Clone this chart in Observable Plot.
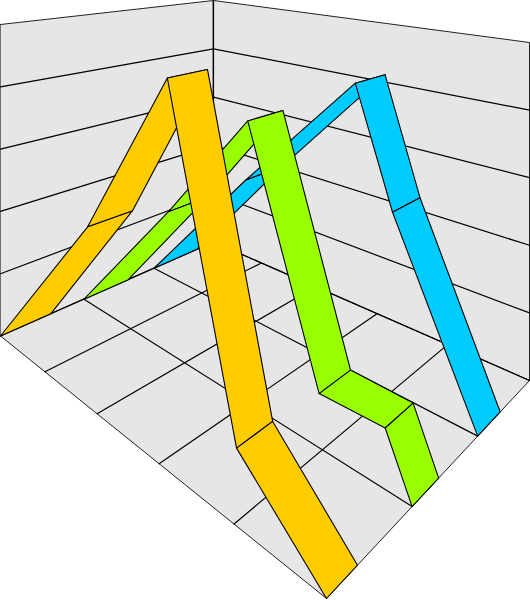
<!DOCTYPE html>
<html>
<head>
<meta charset="utf-8">
<script src="https://cdn.jsdelivr.net/npm/d3@7"></script>
<script src="https://cdn.jsdelivr.net/npm/@observablehq/plot@0.6"></script>
<style>html,body{margin:0;padding:0;background:#fff}svg{display:block}</style>
</head>
<body>
<div id="chart"></div>
<script>
// Ribbon data: position along the category axis (0..5) and value (0..5)
const seriesColors = ["#ffcc00", "#99ff00", "#00ccff"];
const seriesDepthFront = [0, 0.3333, 0.6667];
const seriesWidthStart = [0.193, 0.204, 0.235];
const seriesWidthEnd = [0.11, 0.125, 0.136];
const orangeT = [0, 1.83, 3.12, 4.03, 5];
const orangeV = [0, 2.49, 4.85, 0.88, 0];
const greenT = [0, 1.72, 3.0, 3.96, 4.72, 5];
const greenV = [0, 2.2, 3.96, 0.70, 0.74, 0];
const blueT = [0, 1.82, 3.52, 4.01, 5];
const blueV = [0, 2.31, 4.34, 2.59, 0];
const seriesT = [orangeT, greenT, blueT];
const seriesV = [orangeV, greenV, blueV];
const categoryTicks = [0, 1, 2, 3, 4, 5];
const depthTicks = [0, 1 / 3, 2 / 3, 1];
const valueTicks = [0, 1, 2, 3, 4, 5];

// Camera: screen position of the floor corners and size of one value unit there
const corner = {
  left: {x: 0, y: 335.5, unit: 62.3},
  back: {x: 213, y: 241.5, unit: 48.3},
  right: {x: 529, y: 380, unit: 67.6}
};
const front = {x: 326, y: 598};
const wL = 1 / corner.left.unit, wB = 1 / corner.back.unit, wR = 1 / corner.right.unit;
const wF = wL + wR - wB;

function project(t, s, v) {
  const a = t / 5;
  const k = [(1 - a) * (1 - s), (1 - a) * s, a * (1 - s), a * s];
  const ws = [wL, wB, wF, wR];
  const pts = [corner.left, corner.back, front, corner.right];
  let den = 0, nx = 0, ny = 0;
  for (let i = 0; i < 4; i++) {
    den += k[i] * ws[i];
    nx += k[i] * ws[i] * pts[i].x;
    ny += k[i] * ws[i] * pts[i].y;
  }
  return {x: nx / den, y: ny / den - v / den};
}
function quad(id, p) {
  return p.map(([t, s, v]) => ({id, ...project(t, s, v)}));
}

const maxT = 5, maxV = 5;
const wallBg = [
  ...quad("left", [[0, 0, 0], [0, 1, 0], [0, 1, maxV], [0, 0, maxV]]),
  ...quad("right", [[0, 1, 0], [maxT, 1, 0], [maxT, 1, maxV], [0, 1, maxV]]),
  ...quad("floor", [[0, 0, 0], [maxT, 0, 0], [maxT, 1, 0], [0, 1, 0]])
];
const grid = [];
for (const v of valueTicks.slice(1, -1).concat([0])) {
  grid.push(...quad("lw" + v, [[0, 0, v], [0, 1, v]]));
  grid.push(...quad("rw" + v, [[0, 1, v], [maxT, 1, v]]));
}
for (const t of categoryTicks.slice(1, -1)) grid.push(...quad("ft" + t, [[t, 0, 0], [t, 1, 0]]));
for (const s of depthTicks.slice(1, -1)) grid.push(...quad("fs" + s, [[0, s, 0], [maxT, s, 0]]));
grid.push(...quad("corner", [[0, 1, 0], [0, 1, maxV]]));

const ribbonMarks = [2, 1, 0].map(i => {
  const rows = [];
  const T = seriesT[i], V = seriesV[i], s0 = seriesDepthFront[i];
  const back = t => s0 + seriesWidthStart[i] + (seriesWidthEnd[i] - seriesWidthStart[i]) * t / maxT;
  for (let j = 0; j < T.length - 1; j++) {
    rows.push(...quad(j, [[T[j], s0, V[j]], [T[j], back(T[j]), V[j]], [T[j + 1], back(T[j + 1]), V[j + 1]], [T[j + 1], s0, V[j + 1]]]));
  }
  return Plot.line(rows, {x: "x", y: "y", z: "id", fill: seriesColors[i], stroke: "#000", strokeWidth: 1.1, curve: "linear-closed"});
});

const chart = Plot.plot({
  width: 530, height: 600,
  marginLeft: 0, marginRight: 0, marginTop: 0, marginBottom: 0,
  x: {domain: [0, 530], range: [0, 530], axis: null},
  y: {domain: [0, 600], range: [0, 600], axis: null},
  style: {background: "#fff"},
  marks: [
    Plot.line(wallBg, {x: "x", y: "y", z: "id", fill: "#e6e6e6", stroke: "#222", strokeWidth: 1, curve: "linear-closed"}),
    Plot.line(grid, {x: "x", y: "y", z: "id", stroke: "#000", strokeWidth: 1.2}),
    ...ribbonMarks
  ]
});
document.getElementById("chart").appendChild(chart);
</script>
</body>
</html>
